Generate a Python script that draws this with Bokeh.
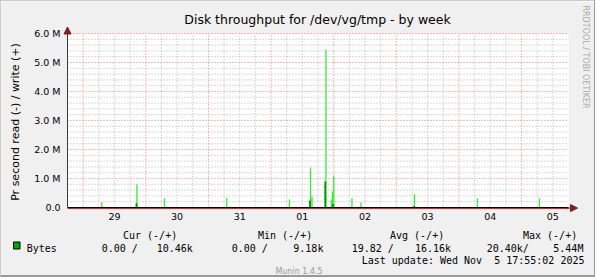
import math
from bokeh.plotting import figure
from bokeh.models import Range1d, FixedTicker, Label, Arrow, NormalHead, BoxAnnotation
from bokeh.embed import file_html
from bokeh.resources import INLINE

# ---- data (x: days after 29 Oct 00:00, y: bytes/s in millions) ----
day_labels = ["29", "30", "31", "01", "02", "03", "04", "05"]
y_labels = ["0.0", "1.0 M", "2.0 M", "3.0 M", "4.0 M", "5.0 M", "6.0 M"]

write_days = [0.297, 0.859, 1.298, 2.293, 3.294, 3.630, 3.654, 3.877,
              3.962, 3.981, 4.002, 4.292, 4.436, 5.290, 6.296, 7.286]
write_vals = [0.18, 0.79, 0.32, 0.32, 0.28, 1.38, 0.38, 5.44,
              0.27, 0.55, 1.10, 0.32, 0.18, 0.46, 0.32, 0.32]

dark_days = [0.851, 3.622, 3.866, 3.992, 4.188, 5.285]
dark_vals = [0.15, 0.24, 0.90, 0.12, 0.02, 0.05]

legend_head = ["Cur (-/+)", "Min (-/+)", "Avg (-/+)", "Max (-/+)"]
legend_vals = ["0.00 /", "10.46k", "0.00 /", "9.18k", "19.82 /", "16.16k", "20.40k/", "5.44M"]
last_update = "Last update: Wed Nov \u00a05 17:55:02 2025"

# ---- layout constants (page pixels) ----
W, H = 595, 277                       # canvas; CSS border adds 1 left/top
PL, PR, PT, PB = 67, 568, 33, 207     # plot area on the page
X0, X1 = -0.25, 7.75                  # 28 Oct 18:00 .. 5 Nov 18:00
Y0, Y1 = 0.0, 6.0
pxd = (PR - PL) / (X1 - X0)
pxm = (PB - PT) / (Y1 - Y0)
CB = 1 + H                             # page y of canvas bottom

p = figure(width=W, height=H, output_backend="svg", toolbar_location=None, min_border=0,
           x_range=Range1d(X0 - (PL - 1) / pxd, X1 + (1 + W - PR) / pxd),
           y_range=Range1d(Y0 - (CB - PB) / pxm, Y1 + (PT - 1) / pxm))
p.styles = {"border-top": "1px solid #CBCBCB", "border-left": "1px solid #CBCBCB",
            "border-bottom": "2px solid #999999", "border-right": "1px solid #999999"}
p.background_fill_color = "#F0F0F0"
p.border_fill_color = "#F0F0F0"
p.outline_line_color = None
p.xgrid.visible = False
p.ygrid.visible = False

# white canvas of the graph
p.add_layout(BoxAnnotation(left=X0, right=X1, bottom=Y0, top=Y1, fill_color="#FFFFFF",
                           fill_alpha=1.0, line_color=None, level="underlay"))

# grid lines
GRID_MAJ = dict(line_color="#E05050", line_alpha=0.75, line_dash="1 2", line_width=1)
GRID_MIN = dict(line_color="#8F8F8F", line_alpha=0.65, line_dash="1 2", line_width=1)
minor_x = [d + h / 24.0 for d in range(-1, 8) for h in (6, 12, 18) if X0 < d + h / 24.0 < X1]
major_x = [d for d in range(0, 8) if X0 < d < X1]
minor_y = [i / 5.0 for i in range(1, 30) if i % 5]
major_y = list(range(1, 7))
p.segment(x0=minor_x, x1=minor_x, y0=[Y0] * len(minor_x), y1=[Y1] * len(minor_x), **GRID_MIN)
p.segment(x0=[X0] * len(minor_y), x1=[X1] * len(minor_y), y0=minor_y, y1=minor_y, **GRID_MIN)
p.segment(x0=major_x, x1=major_x, y0=[Y0] * len(major_x), y1=[Y1] * len(major_x), **GRID_MAJ)
p.segment(x0=[X0] * len(major_y), x1=[X1] * len(major_y), y0=major_y, y1=major_y, **GRID_MAJ)

# data
BIN = 1.0 / 48.0
p.vbar(x=write_days, top=write_vals, bottom=0, width=BIN, fill_color="#33EE33", line_color=None)
p.vbar(x=dark_days, top=dark_vals, bottom=0, width=BIN * 1.4, fill_color="#009600", line_color=None)

# zero line (black) and x axis line (red) just below
p.segment(x0=[X0], x1=[X1], y0=[0], y1=[0], line_color="#000000", line_width=1.2)
p.segment(x0=[X0], x1=[X1], y0=[-1.1 / pxm], y1=[-1.1 / pxm], line_color="#B02020", line_width=1)

# axes at fixed locations
xt = [i + 0.5 for i in range(len(day_labels))]
p.xaxis.fixed_location = Y0
p.xaxis.bounds = (X0, X1)
p.xaxis.ticker = FixedTicker(ticks=xt)
p.xaxis.major_label_overrides = {t: s for t, s in zip(xt, day_labels)}
p.xaxis.axis_line_color = None
p.yaxis.fixed_location = X0
p.yaxis.bounds = (Y0, Y1)
p.yaxis.ticker = FixedTicker(ticks=list(range(len(y_labels))))
p.yaxis.major_label_overrides = {i: s for i, s in enumerate(y_labels)}
p.yaxis.axis_line_color = "#3A3A3A"
for ax in (p.xaxis[0], p.yaxis[0]):
    ax.major_tick_line_color = None
    ax.minor_tick_line_color = None
    ax.major_tick_out = 0
    ax.major_tick_in = 0
    ax.major_label_text_font = "DejaVu Sans"
    ax.major_label_text_font_size = "9.5px"
    ax.major_label_text_color = "#000000"
p.xaxis.major_label_standoff = 5
p.yaxis.major_label_standoff = 7


def sx(cx):
    return cx - 1


def sy(cy):
    return CB - cy


def lab(cx, cy, text, size, color="#000000", font="DejaVu Sans", align="left", angle=0.0):
    p.add_layout(Label(x=sx(cx), y=sy(cy), x_units="screen", y_units="screen", text=text,
                       text_font=font, text_font_size=f"{size}px", text_color=color,
                       text_align=align, text_baseline="alphabetic", angle=angle))


# arrows
ARW = "#7F1F1F"
p.add_layout(Arrow(x_start=sx(566), y_start=sy(207.6), x_end=sx(577), y_end=sy(207.6),
                   start_units="screen", end_units="screen", line_color=ARW, line_width=1,
                   end=NormalHead(size=7, fill_color=ARW, line_color=ARW)))
p.add_layout(Arrow(x_start=sx(67), y_start=sy(35), x_end=sx(67), y_end=sy(26.5),
                   start_units="screen", end_units="screen", line_color=ARW, line_width=1,
                   end=NormalHead(size=7, fill_color=ARW, line_color=ARW)))

# texts
lab(317, 18.5, "Disk throughput for /dev/vg/tmp - by week", 12.5, align="center")
lab(14.5, 121.5, "Pr second read (-) / write (+)", 11, align="center", angle=math.pi / 2)
lab(584.5, 5, "RRDTOOL / TOBI OETIKER", 8, color="#AAAAAA", angle=-math.pi / 2)

MONO = "DejaVu Sans Mono"
for x, t in zip([122.5, 257.5, 389.5, 522.5], legend_head):
    lab(x, 235, t, 10, font=MONO)
lab(26.2, 248, "Bytes", 10, font=MONO)
for x, t in zip([101.2, 156.2, 231.2, 292.8, 351.2, 414.5, 486.2, 552.8], legend_vals):
    lab(x, 248, t, 10, font=MONO)
lab(361.2, 260, last_update, 10, font=MONO)
lab(298.5, 271, "Munin 1.4.5", 8, color="#999999", align="center")

p.add_layout(BoxAnnotation(left=sx(13.0), right=sx(19.5), top=sy(241.5), bottom=sy(248.5),
                           left_units="screen", right_units="screen", top_units="screen",
                           bottom_units="screen", fill_color="#00AA00", fill_alpha=1.0,
                           line_color="#000000", line_width=1, line_alpha=1.0))

open("out.html", "w").write(file_html(p, INLINE))
